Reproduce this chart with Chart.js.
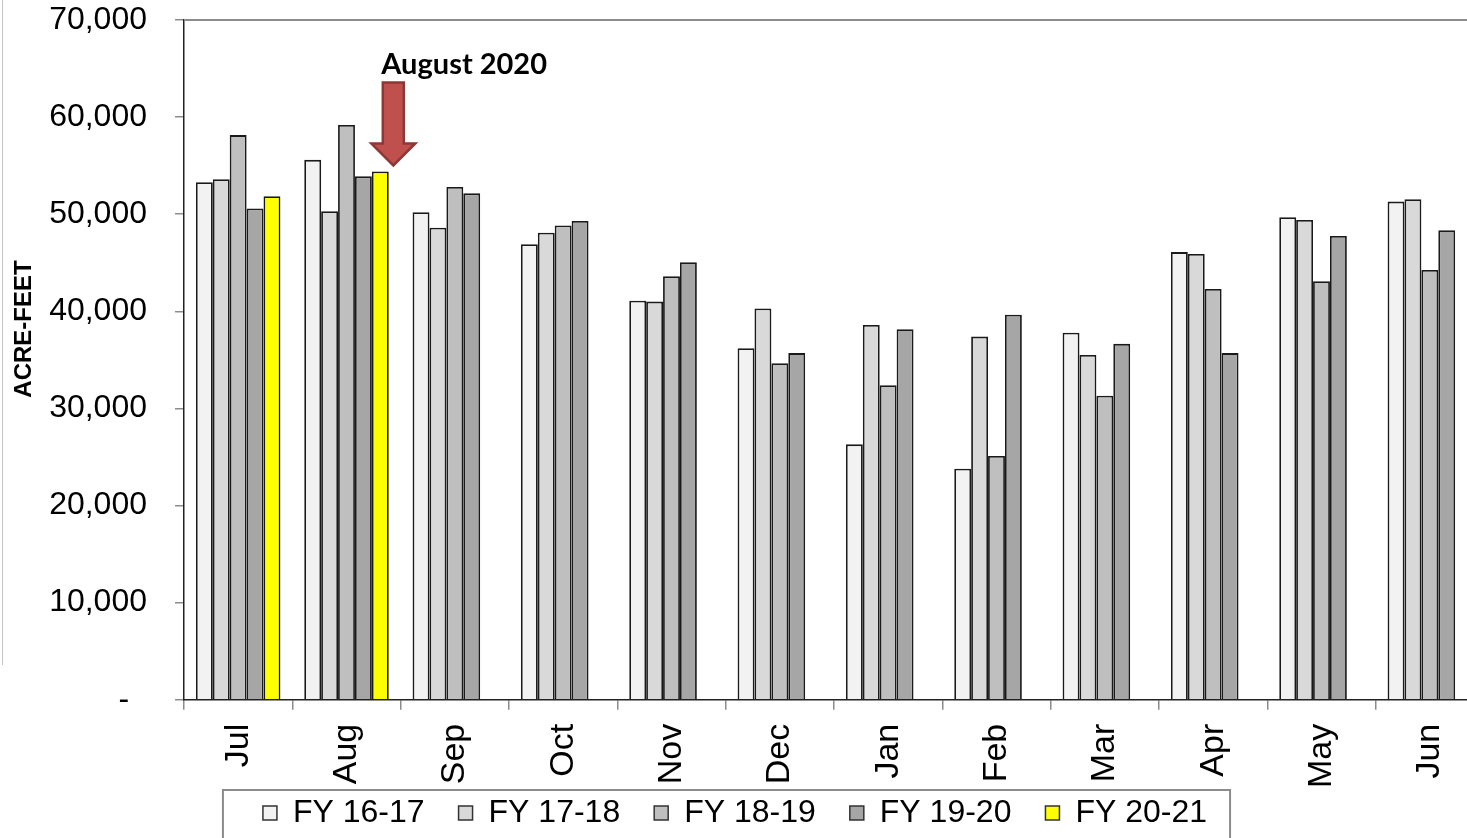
<!DOCTYPE html>
<html>
<head>
<meta charset="utf-8">
<script src="https://cdn.jsdelivr.net/npm/chart.js@4.4.1/dist/chart.umd.min.js"></script>
<style>
  html, body { margin: 0; padding: 0; overflow: hidden; background: #fff; }
  #wrap { position: relative; width: 1500px; height: 878px; }
  #edge { position: absolute; left: 2px; top: 0; width: 1px; height: 665px; background: #c4c4c4; }
</style>
</head>
<body>
<div id="wrap">
  <div id="edge"></div>
  <canvas id="chart" width="1500" height="878"></canvas>
</div>
<script>
const months = ['Jul', 'Aug', 'Sep', 'Oct', 'Nov', 'Dec', 'Jan', 'Feb', 'Mar', 'Apr', 'May', 'Jun'];

const fy1617 = [53300, 55600, 50200, 46900, 41100, 36200, 26300, 23800, 37800, 46100, 49700, 51300];
const fy1718 = [53600, 50300, 48600, 48100, 41000, 40300, 38600, 37400, 35500, 45900, 49400, 51550];
const fy1819 = [58150, 59200, 52800, 48850, 43600, 34650, 32400, 25100, 31300, 42300, 43100, 44250];
const fy1920 = [50600, 53900, 52150, 49300, 45050, 35700, 38150, 39650, 36650, 35700, 47750, 48350];
const fy2021 = [51850, 54400, null, null, null, null, null, null, null, null, null, null];

const seriesNames = ['FY 16-17', 'FY 17-18', 'FY 18-19', 'FY 19-20', 'FY 20-21'];
const seriesColors = ['#f2f2f2', '#d9d9d9', '#bfbfbf', '#a6a6a6', '#ffff00'];
const yTicks = [0, 10000, 20000, 30000, 40000, 50000, 60000, 70000];

const calloutText = 'August 2020';
const calloutMonth = 1;

const font = 'Liberation Sans, Arial, sans-serif';
const legendPad = 34;

function makeSet(i, values) {
    return {
        label: seriesNames[i],
        data: values,
        backgroundColor: seriesColors[i],
        borderColor: '#1a1a1a',
        borderWidth: 1.8,
        borderSkipped: 'start',
        categoryPercentage: 0.78,
        barPercentage: 1.0
    };
}

// plot frame, y title, callout arrow and legend box
const extras = {
    id: 'extras',
    afterLayout(chart) {
        // legend sits left of centre and tucked up under the month labels
        const lg = chart.legend;
        const shift = 735 - (lg.left + lg.right) / 2;
        lg.left += shift;
        lg.right += shift;
        const h = lg.bottom - lg.top;
        lg.top = 813 - legendPad - 16;
        lg.bottom = lg.top + h;
    },
    beforeDatasetsDraw(chart) {
        const { ctx, chartArea: a } = chart;
        ctx.save();
        ctx.strokeStyle = '#8c8c8c';
        ctx.lineWidth = 2;
        ctx.beginPath();
        ctx.moveTo(a.left, a.top);
        ctx.lineTo(a.right, a.top);
        ctx.lineTo(a.right, a.bottom);
        ctx.stroke();
        ctx.restore();
    },
    afterDraw(chart) {
        const { ctx } = chart;
        ctx.save();

        // axis title
        ctx.translate(24, 329);
        ctx.rotate(-Math.PI / 2);
        ctx.font = 'bold 24px ' + font;
        ctx.fillStyle = '#000';
        ctx.textAlign = 'center';
        ctx.textBaseline = 'middle';
        ctx.fillText('ACRE-FEET', 0, 0);
        ctx.restore();

        // callout arrow above the current-year bar
        const bar = chart.getDatasetMeta(4).data[calloutMonth];
        const cx = bar.x + 13;
        const tip = bar.y - 6;
        ctx.save();
        ctx.beginPath();
        ctx.moveTo(cx - 10.5, tip - 83);
        ctx.lineTo(cx + 10.5, tip - 83);
        ctx.lineTo(cx + 10.5, tip - 22);
        ctx.lineTo(cx + 22, tip - 22);
        ctx.lineTo(cx, tip);
        ctx.lineTo(cx - 22, tip - 22);
        ctx.lineTo(cx - 10.5, tip - 22);
        ctx.closePath();
        ctx.fillStyle = '#c0504d';
        ctx.fill();
        ctx.strokeStyle = '#8c3836';
        ctx.lineWidth = 2.5;
        ctx.stroke();

        ctx.font = 'bold 29px Lato, "Open Sans", sans-serif';
        ctx.fillStyle = '#000';
        ctx.textAlign = 'left';
        ctx.textBaseline = 'alphabetic';
        ctx.fillText(calloutText, bar.x + 1, tip - 91);
        ctx.restore();

        // legend frame
        const boxes = chart.legend.legendHitBoxes;
        if (boxes && boxes.length) {
            const first = boxes[0];
            const last = boxes[boxes.length - 1];
            ctx.save();
            ctx.strokeStyle = '#8c8c8c';
            ctx.lineWidth = 2;
            ctx.strokeRect(first.left - 40, 790, last.left + last.width - first.left + 63, 80);
            ctx.restore();
        }
    }
};

new Chart(document.getElementById('chart'), {
    type: 'bar',
    data: {
        labels: months,
        datasets: [
            makeSet(0, fy1617),
            makeSet(1, fy1718),
            makeSet(2, fy1819),
            makeSet(3, fy1920),
            makeSet(4, fy2021)
        ]
    },
    options: {
        responsive: false,
        animation: false,
        devicePixelRatio: 1,
        layout: { padding: { top: 20, right: 16, left: 0, bottom: 0 } },
        plugins: {
            title: { display: false },
            tooltip: { enabled: false },
            legend: {
                position: 'bottom',
                labels: {
                    color: '#000',
                    font: { family: font, size: 32 },
                    boxWidth: 14,
                    boxHeight: 14,
                    padding: legendPad,
                    generateLabels(chart) {
                        return chart.data.datasets.map((ds, i) => ({
                            text: ds.label,
                            fillStyle: ds.backgroundColor,
                            strokeStyle: '#333',
                            lineWidth: 1.5,
                            datasetIndex: i,
                            hidden: false
                        }));
                    }
                }
            }
        },
        scales: {
            x: {
                grid: { offset: true, drawOnChartArea: false, drawTicks: true, tickLength: 10, color: '#8c8c8c', lineWidth: 1.5 },
                border: { color: '#222', width: 1.5 },
                ticks: {
                    color: '#000',
                    font: { family: font, size: 34 },
                    minRotation: 90,
                    maxRotation: 90,
                    autoSkip: false,
                    padding: 14
                }
            },
            y: {
                min: 0,
                max: 70000,
                afterBuildTicks(scale) {
                    scale.ticks = yTicks.map(v => ({ value: v }));
                },
                afterFit(scale) {
                    scale.width = 184;
                    scale.paddingTop = 0;
                    scale.paddingBottom = 0;
                },
                grid: { drawOnChartArea: false, drawTicks: true, tickLength: 9, color: '#8c8c8c', lineWidth: 1.5 },
                border: { color: '#222', width: 1.5 },
                ticks: {
                    color: '#000',
                    font: { family: font, size: 32 },
                    padding: 28,
                    callback: v => v === 0 ? '-  ' : v.toLocaleString('en-US')
                }
            }
        }
    },
    plugins: [extras]
});
</script>
</body>
</html>
